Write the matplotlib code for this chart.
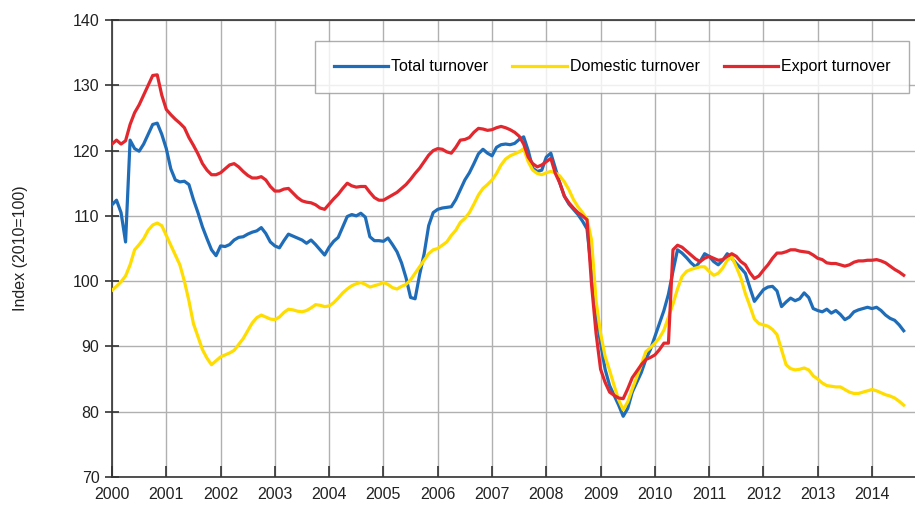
import numpy as np
import matplotlib
matplotlib.use("Agg")
import matplotlib.pyplot as plt

plt.rcParams['font.family'] = ['Liberation Sans', 'DejaVu Sans']

# monthly index values, Jan 2000 - Aug 2014 (2010=100)
total = [
    111.7, 112.4, 110.5, 106.0, 121.6, 120.3, 119.9, 121.0, 122.5, 124.0, 124.2, 122.5,  # 2000
    120.3, 117.2, 115.5, 115.2, 115.3, 114.8, 112.5, 110.5, 108.3, 106.5, 104.8, 103.9,  # 2001
    105.4, 105.3, 105.6, 106.3, 106.7, 106.8, 107.2, 107.5, 107.7, 108.2, 107.3, 106.0,  # 2002
    105.4, 105.1, 106.2, 107.2, 106.9, 106.6, 106.3, 105.8, 106.3, 105.6, 104.8, 104.0,  # 2003
    105.2, 106.1, 106.7, 108.3, 109.9, 110.2, 110.0, 110.4, 109.8, 106.8, 106.2, 106.2,  # 2004
    106.1, 106.6, 105.6, 104.5, 102.8, 100.5, 97.5, 97.3, 101.0, 104.2, 108.5, 110.5,    # 2005
    111.0, 111.2, 111.3, 111.4, 112.5, 114.0, 115.5, 116.6, 118.0, 119.5, 120.2, 119.6,  # 2006
    119.2, 120.5, 120.9, 121.0, 120.9, 121.1, 121.7, 122.1, 120.0, 117.3, 116.8, 117.0,  # 2007
    119.0, 119.6, 117.3, 115.0, 113.0, 111.8, 111.0, 110.2, 109.2, 108.0, 101.5, 95.0,   # 2008
    90.5, 86.5, 84.0, 82.5, 81.0, 79.3, 80.5, 83.0, 84.5, 86.0, 88.0, 89.5,             # 2009
    91.5, 93.5, 95.5, 98.0, 101.5, 104.8, 104.3, 103.6, 102.8, 102.2, 103.0, 104.2,      # 2010
    103.8, 103.0, 102.5, 103.2, 104.2, 103.5, 102.7, 102.0, 101.2, 99.0, 96.9, 97.8,     # 2011
    98.7, 99.1, 99.2, 98.5, 96.1, 96.8, 97.4, 97.0, 97.3, 98.2, 97.5, 95.8,             # 2012
    95.5, 95.3, 95.7, 95.1, 95.5, 94.9, 94.1, 94.5, 95.3, 95.6, 95.8, 96.0,             # 2013
    95.8, 96.0, 95.5, 94.8, 94.3, 94.0, 93.3, 92.4,                                     # 2014
]
domestic = [
    98.6, 99.2, 99.9, 100.8, 102.5, 104.8, 105.6, 106.5, 107.8, 108.6, 108.9, 108.5,
    107.0, 105.5, 104.0, 102.5, 100.0, 97.0, 93.5, 91.5, 89.5, 88.2, 87.2, 87.8,
    88.4, 88.7, 89.0, 89.4, 90.3, 91.2, 92.4, 93.6, 94.4, 94.8, 94.5, 94.2,
    94.1, 94.5, 95.2, 95.7, 95.6, 95.4, 95.3, 95.5, 95.9, 96.4, 96.3, 96.1,
    96.2, 96.7, 97.4, 98.2, 98.8, 99.3, 99.6, 99.8, 99.5, 99.1, 99.3, 99.5,
    99.8, 99.5, 99.0, 98.8, 99.2, 99.5, 100.2, 101.2, 102.2, 103.2, 104.2, 104.8,
    105.0, 105.5, 106.0, 107.0, 107.8, 109.0, 109.6, 110.5, 111.8, 113.2, 114.2, 114.8,
    115.5, 116.5, 117.8, 118.7, 119.2, 119.5, 119.8, 120.3, 118.3, 117.0, 116.5, 116.3,
    116.6, 116.8, 116.6, 116.1, 115.2, 114.0, 112.5, 111.4, 110.5, 109.5, 106.3, 97.0,
    92.0, 88.5, 86.3, 84.0, 81.8, 80.3, 81.5, 83.5, 85.3, 87.2, 89.2, 89.8,
    90.5, 91.3, 92.5, 94.5, 96.5, 98.8, 100.7, 101.5, 101.8, 102.0, 102.2, 102.2,
    101.5, 100.9, 101.2, 102.0, 103.2, 103.7, 102.2, 100.5, 98.1, 96.2, 94.2, 93.5,
    93.3, 93.1, 92.6, 91.8, 89.5, 87.2, 86.6, 86.4, 86.5, 86.7, 86.4, 85.5,
    85.0, 84.4, 84.0, 83.9, 83.8, 83.8, 83.4, 83.0, 82.8, 82.8, 83.0, 83.2,
    83.4, 83.2, 82.9, 82.6, 82.4, 82.1, 81.6, 81.0,
]
export = [
    121.0, 121.6, 121.0, 121.5, 124.0, 125.8, 127.0, 128.5, 130.0, 131.5, 131.6, 128.5,
    126.3, 125.5, 124.8, 124.2, 123.5, 122.0, 120.8, 119.5, 118.0, 117.0, 116.3, 116.3,
    116.6, 117.2, 117.8, 118.0, 117.5, 116.8, 116.2, 115.8, 115.8, 116.0, 115.5, 114.5,
    113.8, 113.8, 114.1, 114.2, 113.5, 112.8, 112.3, 112.1, 112.0, 111.7, 111.2, 111.0,
    111.8, 112.6, 113.3, 114.2, 115.0, 114.6, 114.4, 114.5, 114.5, 113.6, 112.8, 112.4,
    112.4, 112.8, 113.2, 113.6, 114.2, 114.8, 115.6, 116.5, 117.3, 118.3, 119.3, 120.0,
    120.3, 120.2, 119.8, 119.6, 120.5, 121.6, 121.7, 122.0, 122.8, 123.4, 123.3, 123.1,
    123.2, 123.5, 123.7, 123.5, 123.2, 122.8, 122.2, 121.0, 119.0, 118.0, 117.5, 117.8,
    118.3, 118.8, 116.5, 115.0, 113.0, 112.0, 111.2, 110.5, 110.0, 109.4, 99.5, 92.0,
    86.5, 84.5, 83.0, 82.5, 82.1, 82.0, 83.5, 85.2, 86.2, 87.2, 88.0, 88.3,
    88.7, 89.5, 90.5, 90.5, 104.8, 105.5, 105.2, 104.6, 104.0, 103.4, 103.0, 103.5,
    103.8, 103.5, 103.2, 103.3, 103.8, 104.2, 103.8, 103.0, 102.5, 101.3, 100.4, 100.8,
    101.7, 102.5, 103.5, 104.3, 104.3, 104.5, 104.8, 104.8, 104.6, 104.5, 104.4, 104.0,
    103.5, 103.3, 102.8, 102.7, 102.7, 102.5, 102.3, 102.5, 102.9, 103.1, 103.1, 103.2,
    103.2, 103.3, 103.1, 102.8, 102.3, 101.8, 101.4, 100.9,
]
years = list(range(2000, 2015))

t = 2000 + np.arange(len(total)) / 12.0

fig = plt.figure(figsize=(9.15, 5.15), dpi=100)
ax = fig.add_axes([112 / 915, 38 / 515, 1 - 112 / 915, 457 / 515])

ax.plot(t, total, color='#1F6DB8', lw=2.3, label='Total turnover', zorder=3)
ax.plot(t, domestic, color='#FFDD00', lw=2.3, label='Domestic turnover', zorder=4)
ax.plot(t, export, color='#E2282E', lw=2.3, label='Export turnover', zorder=5)

ax.set_xlim(2000, 2000 + 177.5 / 12)
ax.set_ylim(70, 140)
ax.set_xticks(years)
ax.set_xticklabels([str(y) for y in years])
ax.set_yticks(range(70, 141, 10))
ax.grid(True, color='#b0b0b0', lw=1.0, zorder=0)
ax.set_axisbelow(True)

for s in ['left', 'bottom', 'top']:
    ax.spines[s].set_color('#333333')
    ax.spines[s].set_linewidth(1.2)
ax.spines['right'].set_visible(False)

ax.tick_params(axis='y', direction='inout', length=10, width=1.2, labelsize=11.5,
               colors='#333333', labelcolor='#222222', pad=4)
ax.tick_params(axis='x', direction='in', length=8, width=1.2, labelsize=11.5,
               colors='#333333', labelcolor='#222222', pad=7)

ax.set_ylabel('Index (2010=100)', fontsize=11.5, color='#222222', labelpad=32)

leg = ax.legend(loc='upper right', bbox_to_anchor=(909 / 915, 1 - 41 / 515),
                bbox_transform=fig.transFigure, ncol=3, fontsize=11.5,
                frameon=True, fancybox=False, edgecolor='#999999',
                handlelength=3.4, handletextpad=0.2, columnspacing=1.5,
                borderpad=1.15, borderaxespad=0)
leg.get_frame().set_linewidth(1.0)

fig.savefig('out.png', dpi=100)
